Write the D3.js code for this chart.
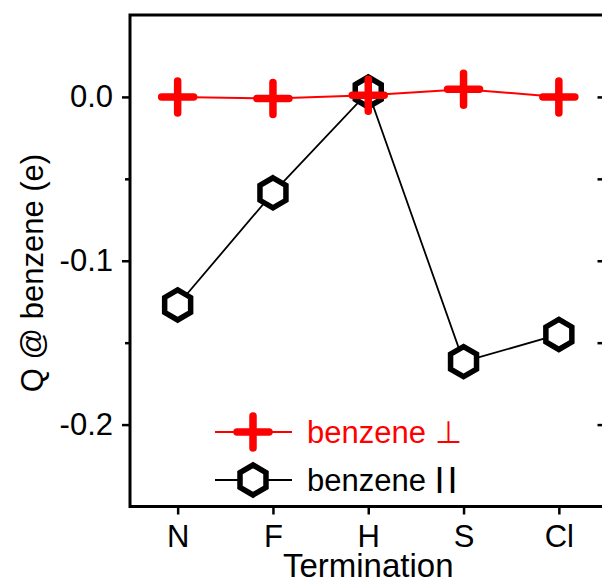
<!DOCTYPE html>
<html><head><meta charset="utf-8">
<script src="https://cdn.jsdelivr.net/npm/d3@7"></script>
<style>body{margin:0;background:#fff}svg{display:block}text{font-family:"Liberation Sans",Arial,sans-serif}</style>
</head><body>
<svg id="c" width="602" height="580"></svg>
<script>
const categories = ["N","F","H","S","Cl"];
const perpValues = [0.0, -0.001, 0.001, 0.0047, 0.0];
const paraValues = [-0.127, -0.0585, 0.003, -0.1616, -0.145];
const yMajorTicks = [0.0, -0.1, -0.2];
const yMinorTicks = [-0.05, -0.15];
const seriesNames = ["benzene \u22A5", "benzene II"];

const svg = d3.select("#c");
const x = d3.scaleLinear().domain([-0.5, 4.5]).range([130, 606.5]);
const y = d3.scaleLinear().domain([-0.25, 0.05]).range([506.5, 15]);
const L = 130, R = 606.5, T = 15, B = 506.5;

// frame
svg.append("rect").attr("x", L).attr("y", T).attr("width", R - L).attr("height", B - T)
  .attr("fill", "none").attr("stroke", "#000").attr("stroke-width", 3);

// left axis
const yAxis = d3.axisLeft(y).tickValues(yMajorTicks).tickSize(8).tickPadding(9)
  .tickFormat(d3.format(".1f"));
const gy = svg.append("g").attr("transform", `translate(${L},0)`).call(yAxis);
gy.select(".domain").remove();
gy.selectAll(".tick line").attr("stroke-width", 2.5);
gy.selectAll(".tick text").attr("font-size", 31).attr("fill", "#000")
  .text(d => d === 0 ? "0.0" : d3.format(".1f")(d).replace("\u2212", "-"));
const gym = svg.append("g").attr("transform", `translate(${L},0)`)
  .call(d3.axisLeft(y).tickValues(yMinorTicks).tickSize(5).tickFormat(""));
gym.select(".domain").remove();
gym.selectAll(".tick line").attr("stroke-width", 2.5);

// right axis (inward ticks)
const gr2 = svg.append("g").attr("transform", `translate(${R},0)`)
  .call(d3.axisLeft(y).tickValues(yMajorTicks.concat(yMinorTicks)).tickSize(9).tickFormat(""));
gr2.select(".domain").remove();
gr2.selectAll(".tick line").attr("stroke-width", 2.5);

// bottom axis
const gx = svg.append("g").attr("transform", `translate(0,${B})`)
  .call(d3.axisBottom(x).tickValues(d3.range(categories.length)).tickSize(8).tickPadding(10)
    .tickFormat(i => categories[i]));
gx.select(".domain").remove();
gx.selectAll(".tick line").attr("stroke-width", 2.5);
gx.selectAll(".tick text").attr("font-size", 31).attr("fill", "#000");

// axis titles
svg.append("text").attr("x", x(2)).attr("y", 577).attr("text-anchor", "middle")
  .attr("font-size", 33).text("Termination");
svg.append("text").attr("transform", "translate(43,273) rotate(-90)").attr("text-anchor", "middle")
  .attr("font-size", 31).text("Q @ benzene (e)");

const line = d3.line().x((d, i) => x(i)).y(d => y(d));
const hexR = 15;
const hexPath = d3.range(6).map(k => {
  const a = Math.PI / 180 * (60 * k - 90);
  return [hexR * Math.cos(a), hexR * Math.sin(a)];
});
const hex = "M" + hexPath.map(p => p.join(",")).join("L") + "Z";
const plusS = 16;
const plus = `M${-plusS},0L${plusS},0M0,${-plusS}L0,${plusS}`;

// parallel series (black)
svg.append("path").datum(paraValues).attr("d", line).attr("fill", "none")
  .attr("stroke", "#000").attr("stroke-width", 1.8);
svg.selectAll(".hex").data(paraValues).enter().append("path")
  .attr("transform", (d, i) => `translate(${x(i)},${y(d)})`).attr("d", hex)
  .attr("fill", "#fff").attr("stroke", "#000").attr("stroke-width", 5.5).attr("stroke-linejoin", "miter");

// perpendicular series (red)
svg.append("path").datum(perpValues).attr("d", line).attr("fill", "none")
  .attr("stroke", "#ff0000").attr("stroke-width", 2);
svg.selectAll(".plus").data(perpValues).enter().append("path")
  .attr("transform", (d, i) => `translate(${x(i)},${y(d)})`).attr("d", plus)
  .attr("fill", "none").attr("stroke", "#ff0000").attr("stroke-width", 7.5).attr("stroke-linecap", "round");

// legend
const lg = [{y: 432, c: "#ff0000", m: plus, name: seriesNames[0]}, {y: 480, c: "#000", m: hex, name: seriesNames[1]}];
lg.forEach((e, k) => {
  svg.append("line").attr("x1", 215).attr("x2", 292).attr("y1", e.y).attr("y2", e.y)
    .attr("stroke", e.c).attr("stroke-width", k === 0 ? 2 : 1.8);
  const m = svg.append("path").attr("transform", `translate(253,${e.y})`).attr("d", e.m);
  if (k === 0) m.attr("fill", "none").attr("stroke", e.c).attr("stroke-width", 7.5).attr("stroke-linecap", "round");
  else m.attr("fill", "#fff").attr("stroke", e.c).attr("stroke-width", 5.5);
  const t = svg.append("text").attr("x", 307).attr("y", e.y + 11).attr("font-size", 31).attr("fill", e.c);
  if (k === 0) t.text(e.name);
  else { t.text("benzene "); t.append("tspan").attr("font-size", 36).attr("dy", 2).attr("letter-spacing", 3).text("II"); }
});
</script>
</body></html>
